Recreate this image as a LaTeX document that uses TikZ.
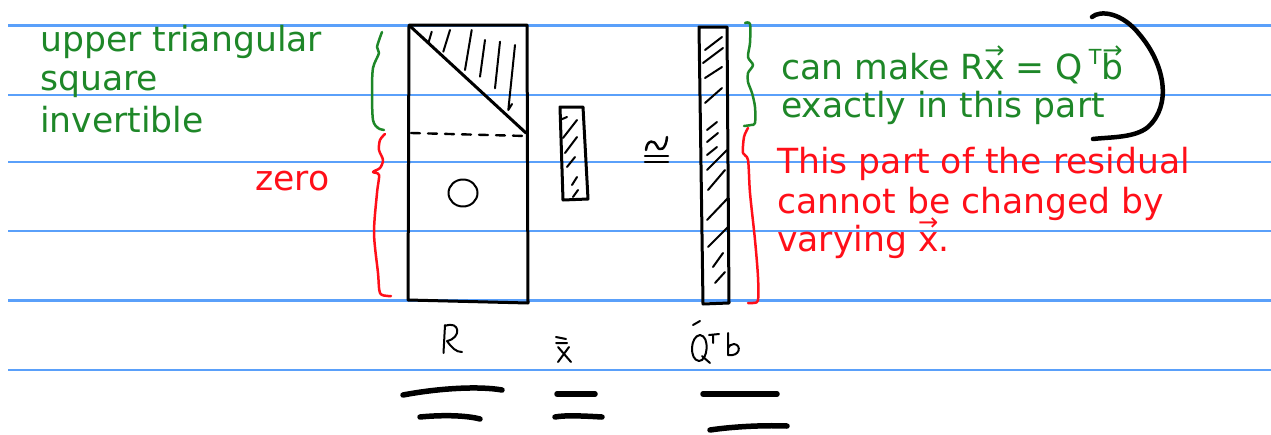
\documentclass[tikz,border=0pt]{standalone}
\usepackage{fontspec}
\usepackage{graphicx}
\setmainfont{DejaVu Sans}
\definecolor{ruleblue}{RGB}{90,160,250}
\definecolor{ggreen}{RGB}{30,135,40}
\definecolor{rred}{RGB}{255,15,25}
\newcommand\arrowover[1]{\ooalign{#1\cr\hidewidth\raisebox{0.6em}{\scalebox{0.7}{→}}\hidewidth\cr}}
\tikzset{
  rule/.style={ruleblue, line width=2.4pt},
  ink/.style={black, line width=3pt, line cap=round, line join=round},
  thinink/.style={black, line width=2pt, line cap=round, line join=round},
  fat/.style={black, line width=5.5pt, line cap=round},
  gbrace/.style={ggreen, line width=2.5pt, line cap=round, line join=round},
  rbrace/.style={rred, line width=2.5pt, line cap=round, line join=round},
  gtext/.style={ggreen, anchor=base west, inner sep=0pt, font=\fontsize{34.6}{40}\selectfont},
  rtext/.style={rred, anchor=base west, inner sep=0pt, font=\fontsize{34.6}{40}\selectfont}
}
\begin{document}
\begin{tikzpicture}[x=1pt,y=-1pt]
\useasboundingbox (0,0) rectangle (1271,434);
% ruled lines
\foreach \yy in {25.5,95,162,231,300.5,370}
  \draw[rule] (8,\yy) -- (1271,\yy);

% left texts
\node[gtext] (t1) at (40,51) {upper triangular};
\node[gtext] (t2) at (40,90) {square};
\node[gtext] (t3) at (40,132) {invertible};
\node[rtext] (t4) at (255,190) {zero};

% right texts
\node[gtext] (g1) at (781,79) {can make R\arrowover{x} = Q\,\raisebox{0.42em}{\scalebox{0.6}{T}}\arrowover{b}};
\node[gtext] (g2) at (781,117) {exactly in this part};
\node[rtext] (r1) at (777,173) {This part of the residual};
\node[rtext] (r2) at (777,213) {cannot be changed by};
\node[rtext] (r3) at (777,251) {varying \arrowover{x}.};

% R matrix
\draw[ink] (409,25) -- (527,25) -- (528,303) -- (408,300) -- cycle;
\draw[ink] (411,27) -- (526,133);
\draw[thinink, line width=2.4pt, dash pattern=on 9pt off 8pt] (411,133) -- (526,136);
\draw[thinink] (431.7,31.7) -- (428.3,43.3)
  (450,30) -- (443.3,51.7)
  (471.7,30) -- (465,70)
  (485,40) -- (480,76.7)
  (500,41.7) -- (495,88.3)
  (515,45) -- (508.3,110) -- (512,104);
\draw[thinink] (463,193) ellipse [x radius=14.5, y radius=13.5];

% x vector
\draw[ink] (560,107) -- (583,107) -- (588,199) -- (563,200) -- cycle;
\draw[thinink] (560,120) -- (567,117)
  (563,138) -- (577,120)
  (565,153) -- (577,137)
  (567,167) -- (575,157)
  (572,185) -- (577,177)
  (573,197) -- (578,190);

% approx equal sign
\draw[thinink, line width=2.5pt] (646,150) .. controls (647,139) and (655,140) .. (657,146)
  .. controls (659,152) and (666,150) .. (667,137);
\draw[thinink, line width=2.5pt] (645,156) -- (668,156) (645,162) -- (668,162);

% Q^T b vector
\draw[ink] (699,27) -- (727,27) -- (729,303) -- (703,304) -- cycle;
\draw[thinink] (705,50) -- (722,37)
  (703,63) -- (723,48)
  (705,78) -- (722,67)
  (705,103) -- (722,88)
  (707,130) -- (717,122)
  (707,142) -- (718,133)
  (707,155) -- (717,147)
  (707,170) -- (727,150)
  (708,190) -- (725,170)
  (707,220) -- (728,198)
  (708,247) -- (728,227)
  (713,267) -- (723,253)
  (715,283) -- (725,272);

% braces left
\draw[gbrace] plot[smooth, tension=0.5] coordinates {(382,32) (377,47) (379,53) (373,68) (372,93) (373,120) (378,128) (384,130)};
\draw[rbrace] plot[smooth, tension=0.5] coordinates {(385,134) (380,140) (379,150) (383,160) (380,168) (373,172) (379,175) (377,193) (374,233) (378,273) (380,293) (388,296) (391,296)};
% braces right
\draw[gbrace] plot[smooth, tension=0.5] coordinates {(745,23) (750,24) (750,43) (748,57) (753,65) (748,73) (748,82) (752,93) (755,107) (755,123) (751,125) (744,126)};
\draw[rbrace] plot[smooth, tension=0.5] coordinates {(748,128) (744,137) (743,153) (748,160) (750,193) (755,240) (758,277) (758,300) (753,303) (748,303)};

% big parenthesis
\draw[fat, line width=4.5pt] (1092,17) .. controls (1100,10) and (1122,12) .. (1140,35)
  .. controls (1165,65) and (1172,105) .. (1148,127)
  .. controls (1135,138) and (1110,137) .. (1093,139);

% handwritten labels
\draw[thinink] (445,325) -- (443.5,353);
\draw[thinink] (445,326) .. controls (460,320) and (462,338) .. (447,341)
  .. controls (452,348) and (456,352) .. (462,352);
\draw[thinink] (556,337) -- (566,339) (556,343) -- (567,343);
\draw[thinink] (558,347) -- (571,362) (569,347) -- (558,362);
\draw[thinink] (693,325) -- (700,321);
\draw[thinink] (700,335) .. controls (690,336) and (689,360) .. (699,361)
  .. controls (708,361) and (710,336) .. (700,335);
\draw[thinink] (702,356) -- (710,363);
\draw[thinink] (709,335) -- (719,334) (713,335) -- (713,343);
\draw[thinink] (728,333) -- (728,355)
  .. controls (740,357) and (742,345) .. (734,344) .. controls (731,344) and (729,346) .. (728,348);

% underlines
\draw[fat] (403,395) .. controls (440,388) and (480,386) .. (502,390);
\draw[fat] (420,417) .. controls (440,415) and (465,415) .. (480,419);
\draw[fat] (557,394) -- (595,394);
\draw[fat] (555,417) .. controls (565,415) and (585,416) .. (602,417);
\draw[fat] (703,394) -- (777,394);
\draw[fat] (710,430) .. controls (730,427) and (760,425) .. (787,426);
\end{tikzpicture}
\end{document}
